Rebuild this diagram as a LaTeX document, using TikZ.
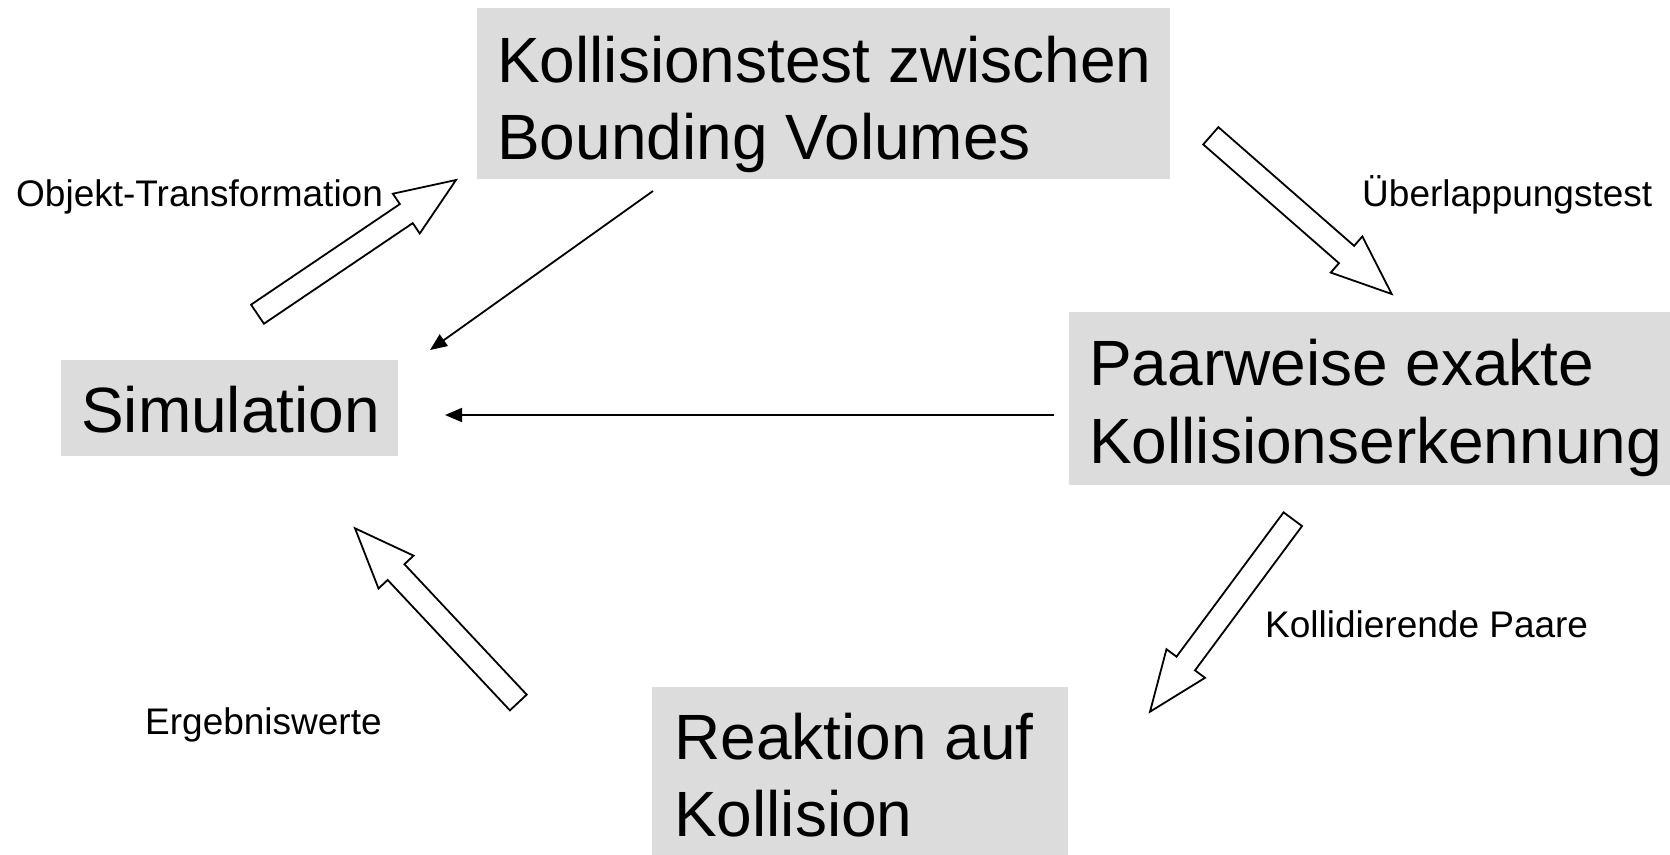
\documentclass[tikz,border=0pt]{standalone}
\usepackage{fontspec}
\setmainfont{Liberation Sans}
\usetikzlibrary{calc,arrows.meta}
\definecolor{boxgray}{RGB}{220,220,220}
\tikzset{
  box/.style={fill=boxgray, draw=none, anchor=north west, inner sep=0pt},
  big/.style={anchor=base west, inner sep=0pt, font=\fontsize{64}{77}\selectfont},
  lbl/.style={anchor=base west, inner sep=0pt, font=\fontsize{37}{44}\selectfont},
  thinarrow/.style={line width=1.8pt, -{Triangle[length=17pt,width=14pt]}},
  blockarr/.style={draw=black, fill=white, line width=1.8pt, line join=miter}
}
\newcommand\blockarrow[2]{%
  \coordinate (hb) at ($(#2)!60pt!(#1)$);
  \draw[blockarr] ($(#1)!11.5pt!90:(#2)$) -- ($(hb)!11.5pt!90:(#2)$) -- ($(hb)!24pt!90:(#2)$)
    -- (#2) -- ($(hb)!24pt!-90:(#2)$) -- ($(hb)!11.5pt!-90:(#2)$) -- ($(#1)!11.5pt!-90:(#2)$) -- cycle;
}
\begin{document}
\begin{tikzpicture}[x=1pt,y=-1pt]
\useasboundingbox (0,0) rectangle (1670,854);
% boxes
\node[box, minimum width=693pt, minimum height=171.5pt] (bv) at (477,7.5) {};
\node[box, minimum width=337pt, minimum height=96pt] (sim) at (61,360) {};
\node[box, minimum width=620pt, minimum height=173pt] (paar) at (1069,312) {};
\node[box, minimum width=416pt, minimum height=175pt] (reak) at (652,687) {};
% box texts
\node[big] (bvA) at (497,82) {Kollisionstest zwischen};
\node[big] (bvB) at (497,159) {Bounding Volumes};
\node[big] (simA) at (81,432) {Simulation};
\node[big] (paarA) at (1089,385) {Paarweise exakte};
\node[big] (paarB) at (1089,463) {Kollisionserkennung};
\node[big] (reakA) at (674,759) {Reaktion auf};
\node[big] (reakB) at (674,836) {Kollision};
% labels
\node[lbl] (lobj) at (16,206) {Objekt-Transformation};
\node[lbl] (lueb) at (1362,206) {Überlappungstest};
\node[lbl] (lkol) at (1265,637) {Kollidierende Paare};
\node[lbl] (lerg) at (145,734) {Ergebniswerte};
% block arrow end points
\coordinate (a1t) at (257.5,314.2); \coordinate (a1h) at (456,180);
\coordinate (a2t) at (1210.8,135.8); \coordinate (a2h) at (1391.7,294);
\coordinate (a3t) at (1292.8,519.2); \coordinate (a3h) at (1150,711.7);
\coordinate (a4t) at (518.3,702.5); \coordinate (a4h) at (355,528.3);
\blockarrow{a1t}{a1h}
\blockarrow{a2t}{a2h}
\blockarrow{a3t}{a3h}
\blockarrow{a4t}{a4h}
% thin arrows
\coordinate (c1s) at (653,191); \coordinate (c1e) at (430,350);
\coordinate (c2s) at (1054,415); \coordinate (c2e) at (445,415);
\draw[thinarrow] (c1s) -- (c1e);
\draw[thinarrow] (c2s) -- (c2e);
\end{tikzpicture}
\end{document}
